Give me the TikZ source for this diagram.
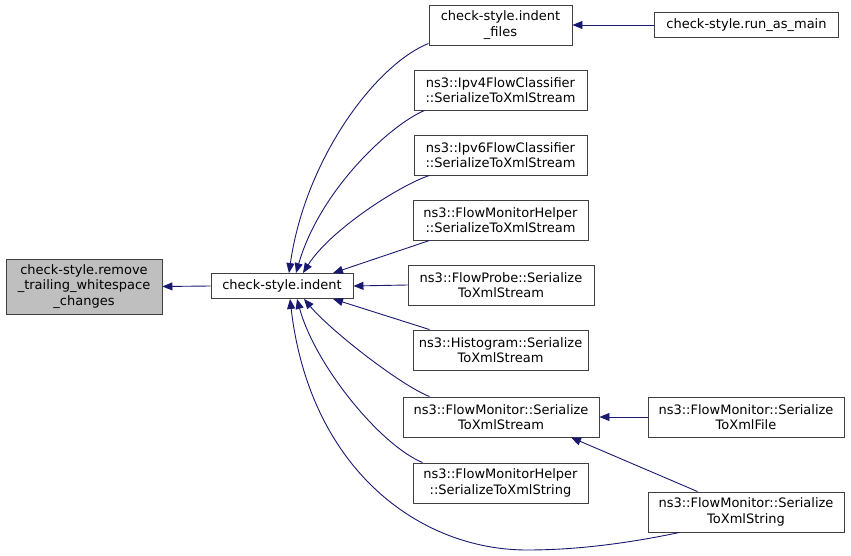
\documentclass[tikz,border=0pt]{standalone}
\usepackage{fontspec}
\setmainfont{DejaVu Sans}
\usetikzlibrary{arrows.meta}

\definecolor{edgeblue}{HTML}{191970}
\definecolor{boxgray}{HTML}{BFBFBF}
\definecolor{boxline}{HTML}{404040}

\tikzset{
    fn/.style={draw=boxline, line width=0.9pt, fill=white, inner sep=0pt, align=center,
        minimum height=40pt, font=\fontsize{13}{15.5}\selectfont},
    call/.style={draw=edgeblue, line width=0.9pt, -{Triangle[length=10pt,width=8pt]}},
}

\begin{document}
\begin{tikzpicture}[x=1pt, y=-1pt]
        \useasboundingbox (0,0) rectangle (851,556);

        \node[fn, fill=boxgray, minimum width=156pt, minimum height=55pt] at (84, 286.5)(remove){check-style.remove\\\_trailing\_whitespace\\\_changes};
        \node[fn, minimum width=142pt, minimum height=25pt] at (282, 286)(indent){check-style.indent};
        \node[fn, minimum width=143pt] at (500.5, 25)(files){check-style.indent\\\_files};
        \node[fn, minimum width=184pt, minimum height=25pt] at (746.5, 25)(runmain){check-style.run\_as\_main};
        \node[fn, minimum width=173pt] at (500.5, 90)(ipv4){ns3::Ipv4FlowClassifier\\::SerializeToXmlStream};
        \node[fn, minimum width=173pt] at (500.5, 155)(ipv6){ns3::Ipv6FlowClassifier\\::SerializeToXmlStream};
        \node[fn, minimum width=175pt] at (500.5, 220)(helperstream){ns3::FlowMonitorHelper\\::SerializeToXmlStream};
        \node[fn, minimum width=186pt] at (501, 285)(probe){ns3::FlowProbe::Serialize\\ToXmlStream};
        \node[fn, minimum width=175pt] at (500.5, 350)(histogram){ns3::Histogram::Serialize\\ToXmlStream};
        \node[fn, minimum width=196pt] at (501, 417)(monstream){ns3::FlowMonitor::Serialize\\ToXmlStream};
        \node[fn, minimum width=175pt] at (500.5, 483)(helperstring){ns3::FlowMonitorHelper\\::SerializeToXmlString};
        \node[fn, minimum width=196pt] at (746, 417)(monfile){ns3::FlowMonitor::Serialize\\ToXmlFile};
        \node[fn, minimum width=196pt] at (746, 512)(monstring){ns3::FlowMonitor::Serialize\\ToXmlString};

        % straight calls
        \draw[call] (indent.west) -- (remove.east);
        \draw[call] (runmain.west) -- (files.east);
        \draw[call] (probe.west) -- (indent.east);
        \draw[call] (monfile.west) -- (monstream.east);
        \draw[call] ([xshift=17pt]helperstream.south west) -- ([xshift=51pt]indent.north);
        \draw[call] ([xshift=17pt]histogram.north west) -- ([xshift=51pt]indent.south);
        \draw[call] ([xshift=50pt]monstring.north west) -- ([xshift=70pt]monstream.south);

        % curved calls
        \draw[call] ([yshift=2pt]files.south west) .. controls (375, 65) and (305, 160) .. ([xshift=7pt]indent.north);
        \draw[call] ([xshift=11pt]ipv4.south west) .. controls (390, 125) and (320, 190) .. ([xshift=14pt]indent.north);
        \draw[call] ([xshift=16pt]ipv6.south west) .. controls (400, 185) and (330, 230) .. ([xshift=21pt]indent.north);
        \draw[call] ([xshift=27pt]monstream.north west) .. controls (400, 385) and (330, 330) .. ([xshift=22pt]indent.south);
        \draw[call] ([xshift=10pt]helperstring.north west) .. controls (380, 445) and (315, 365) .. ([xshift=15pt]indent.south);
        \draw[call] ([xshift=32pt]monstring.south west) .. controls (620, 545) and (570, 550) .. (527, 550)
            .. controls (420, 550) and (310, 470) .. ([xshift=8pt]indent.south);
    \end{tikzpicture}
\end{document}
